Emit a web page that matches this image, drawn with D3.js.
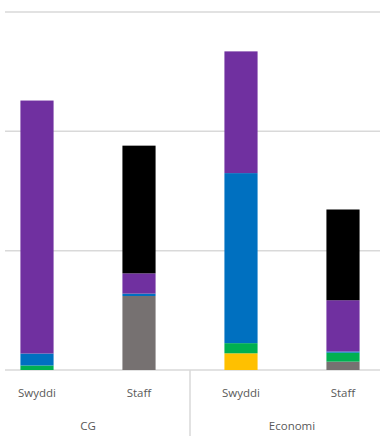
<!DOCTYPE html>
<html>
<meta charset="UTF-8">
<script src="https://d3js.org/d3.v7.min.js"></script>
<style>
    body {
        margin: 0;
        background: #fff;
    }

    svg {
        display: block;
    }

    .grid line {
        stroke: #d9d9d9;
        stroke-width: 1.5;
    }

    text {
        font-family: "Open Sans", sans-serif;
        font-size: 11.5px;
        fill: #595959;
    }
</style>

<body>
    <svg width="380" height="436"></svg>
    <script>
        // chart data
        var groups = ["CG", "Economi"];
        var subgroups = ["Swyddi", "Staff"];
        var series = ["grey", "yellow", "green", "blue", "purple", "black"];
        var colors = ["#767171", "#FFC000", "#00B050", "#0070C0", "#7030A0", "#000000"];
        // values per bar, bottom to top, in series order
        var cgSwyddi = [0, 0, 0.38, 1.0, 21.2, 0];
        var cgStaff = [6.2, 0, 0, 0.2, 1.7, 10.7];
        var econSwyddi = [0, 1.4, 0.85, 14.25, 10.2, 0];
        var econStaff = [0.7, 0, 0.75, 0.1, 4.3, 7.6];
        var yTicks = [0, 10, 20, 30];

        var bars = [
            { group: "CG", sub: "Swyddi", values: cgSwyddi },
            { group: "CG", sub: "Staff", values: cgStaff },
            { group: "Economi", sub: "Swyddi", values: econSwyddi },
            { group: "Economi", sub: "Staff", values: econStaff }
        ];
        var rows = bars.map(function(b) {
            var r = { key: b.group + "|" + b.sub, group: b.group, sub: b.sub };
            series.forEach(function(s, i) { r[s] = b.values[i]; });
            return r;
        });

        const svg = d3.select("svg"),
            plotLeft = -14, plotRight = 394, plotTop = 12, plotBase = 370;

        var x0 = d3.scaleBand().domain(groups).range([plotLeft, plotRight]);
        var x1 = d3.scaleBand().domain(subgroups).range([0, x0.bandwidth()]).paddingInner(0.675).paddingOuter(0.3375);
        var y = d3.scaleLinear().domain([0, 30]).range([plotBase, plotTop]);
        var colour = d3.scaleOrdinal().domain(series).range(colors);

        // gridlines
        svg.append("g")
            .attr("class", "grid")
            .selectAll("line")
            .data(yTicks)
            .enter().append("line")
            .attr("x1", 5)
            .attr("x2", 380)
            .attr("y1", d => y(d))
            .attr("y2", d => y(d));

        var stacked = d3.stack().keys(series)(rows);

        svg.append("g")
            .selectAll("g")
            .data(stacked)
            .enter().append("g")
            .attr("fill", d => colour(d.key))
            .selectAll("rect")
            .data(d => d)
            .enter().append("rect")
            .attr("x", d => x0(d.data.group) + x1(d.data.sub))
            .attr("width", x1.bandwidth())
            .attr("y", d => y(d[1]))
            .attr("height", d => y(d[0]) - y(d[1]));

        // category separator
        svg.append("g")
            .attr("class", "grid")
            .selectAll("line")
            .data(groups.slice(1))
            .enter().append("line")
            .attr("x1", d => x0(d))
            .attr("x2", d => x0(d))
            .attr("y1", plotBase)
            .attr("y2", 436);

        // sub labels
        svg.append("g")
            .selectAll("text")
            .data(rows)
            .enter().append("text")
            .attr("x", d => x0(d.group) + x1(d.sub) + x1.bandwidth() / 2)
            .attr("y", 397)
            .attr("text-anchor", "middle")
            .text(d => d.sub);

        // group labels
        svg.append("g")
            .selectAll("text")
            .data(groups)
            .enter().append("text")
            .attr("x", d => x0(d) + x0.bandwidth() / 2)
            .attr("y", 430)
            .attr("text-anchor", "middle")
            .text(d => d);
    </script>
</body>

</html>
